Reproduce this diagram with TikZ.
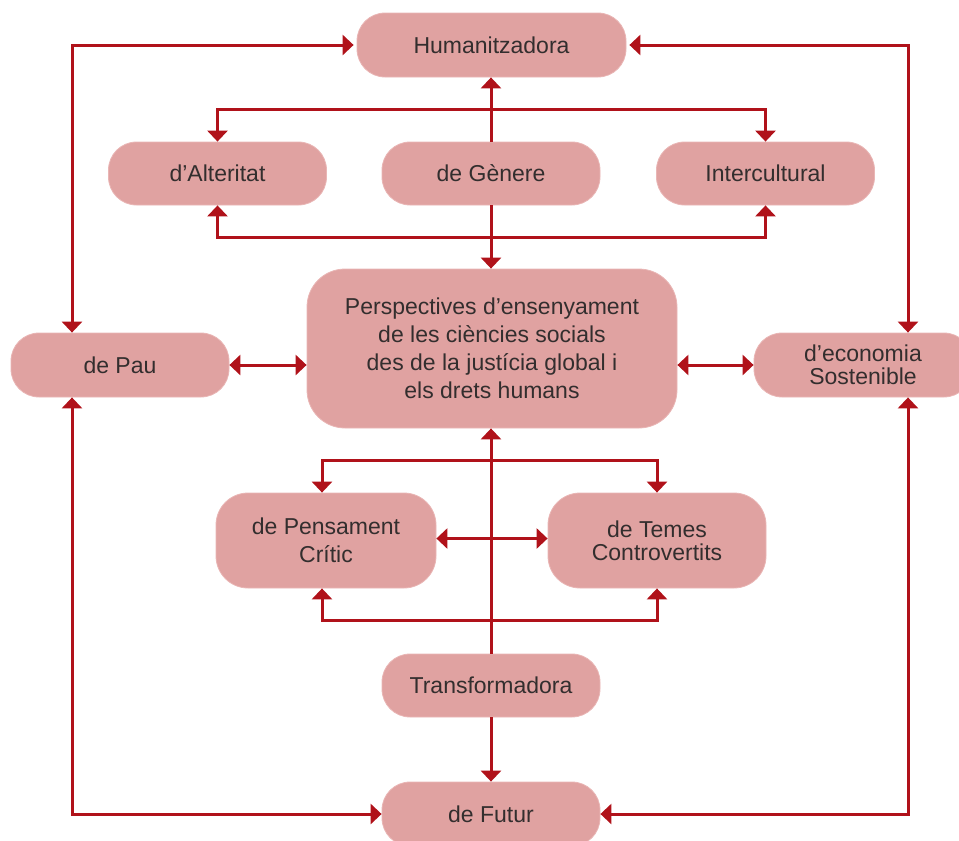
\documentclass[tikz,border=0pt]{standalone}
\usepackage{fontspec}
\setmainfont{Liberation Sans}
\usetikzlibrary{arrows.meta}
\definecolor{boxfill}{HTML}{E0A2A1}
\definecolor{boxedge}{HTML}{E9B6B5}
\definecolor{arrowred}{HTML}{B0121A}
\definecolor{txt}{HTML}{332E2E}
\begin{document}
\begin{tikzpicture}[x=1pt,y=-1pt,
  box/.style={rectangle, rounded corners=28pt, fill=boxfill, draw=boxedge, line width=0.8pt,
    minimum width=218pt, minimum height=63pt, inner sep=0pt, align=center, text=txt,
    font=\fontsize{23}{28}\selectfont},
  link/.style={draw=arrowred, line width=3pt, line join=miter, >={Triangle[width=20pt,length=11pt]}}
]
\useasboundingbox (0,0) rectangle (959,841);

\node[box, minimum width=269pt, minimum height=64pt] (hum) at (491.5,45) {Humanitzadora};
\node[box] (alt) at (217.5,173.5) {d’Alteritat};
\node[box] (gen) at (491,173.5) {de Gènere};
\node[box] (int) at (765.5,173.5) {Intercultural};
\node[box, minimum width=370pt, minimum height=159pt, rounded corners=38pt] (cen) at (492,348.5)
  {Perspectives d’ensenyament\\de les ciències socials\\des de la justícia global i\\els drets humans};
\node[box, minimum height=64pt] (pau) at (120,365) {de Pau};
\node[box, minimum height=64pt, font=\fontsize{23}{23}\selectfont] (eco) at (863,365) {d’economia\\Sostenible};
\node[box, minimum width=220pt, minimum height=95pt, rounded corners=32pt] (pen) at (326,540.5) {de Pensament\\Crític};
\node[box, minimum height=95pt, rounded corners=32pt, font=\fontsize{23}{23}\selectfont] (tem) at (657,540.5) {de Temes\\Controvertits};
\node[box] (tra) at (491,685.5) {Transformadora};
\node[box, minimum height=64pt] (fut) at (491,814) {de Futur};

\draw[link,<->] ([xshift=-48pt]pau.north) |- ([xshift=-3pt]hum.west);
\draw[link,<->] ([xshift=45pt]eco.north) |- ([xshift=3pt]hum.east);
\draw[link,<->] ([xshift=-48pt]pau.south) |- (fut.west);
\draw[link,<->] ([xshift=45pt]eco.south) |- (fut.east);
\draw[link,->] (gen.north) -- (gen.north |- hum.south);
\draw[link,<->] (alt.north) -- ++(0,-32) -| (int.north);
\draw[link,<->] (alt.south) -- ++(0,32) -| (int.south);
\draw[link,->] (gen.south) -- (gen.south |- cen.north);
\draw[link,<->] (pau.east) -- (pau.east -| cen.west);
\draw[link,<->] (eco.west) -- (eco.west -| cen.east);
\draw[link,->] (tra.north) -- (tra.north |- cen.south);
\draw[link,<->] ([xshift=-4pt]pen.north) -- ++(0,-32) -| (tem.north);
\draw[link,<->] ([xshift=-4pt]pen.south) -- ++(0,32) -| (tem.south);
\draw[link,<->] ([yshift=2pt]pen.east) -- ([yshift=2pt]tem.west);
\draw[link,->] (tra.south) -- (fut.north);
\end{tikzpicture}
\end{document}
